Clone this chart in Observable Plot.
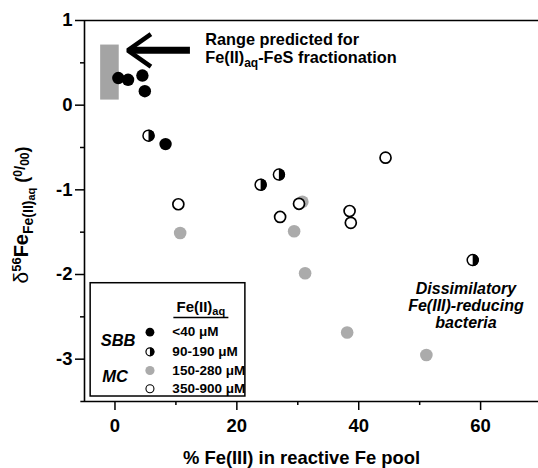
<!DOCTYPE html>
<html><head><meta charset="utf-8">
<script src="https://cdn.jsdelivr.net/npm/d3@7"></script>
<script src="https://cdn.jsdelivr.net/npm/@observablehq/plot@0.6"></script>
<style>
html,body{margin:0;padding:0;background:#fff;}
#chart{width:538px;height:468px;}
</style></head><body><div id="chart"></div>
<script>
// ---- data ----
const lowFeX  = [0.55, 2.15, 4.5, 4.9, 8.3];          // SBB <40 µM (filled black)
const lowFeY  = [0.32, 0.30, 0.35, 0.165, -0.46];
const midFeX  = [5.5, 23.9, 26.9, 58.7];              // 90-190 µM (half filled)
const midFeY  = [-0.36, -0.94, -0.82, -1.83];
const grayFeX = [10.7, 29.4, 30.75, 31.2, 38.1, 51.1]; // MC 150-280 µM (gray)
const grayFeY = [-1.51, -1.49, -1.14, -1.985, -2.685, -2.95];
const highFeX = [10.4, 27.1, 30.2, 38.5, 38.7, 44.4];  // 350-900 µM (open)
const highFeY = [-1.17, -1.32, -1.165, -1.25, -1.39, -0.62];

const xTicks = [0, 20, 40, 60];
const xMinor = [10, 30, 50];
const yTicks = [-3, -2, -1, 0, 1];
const yMinor = [-2.5, -1.5, -0.5, 0.5];
const xDomain = [-5, 69.5];
const yDomain = [-3.5, 1];

const xTitle = "% Fe(III) in reactive Fe pool";
const legendLabels = ["<40 μM", "90-190 μM", "150-280 μM", "350-900 μM"];
const legendGroups = ["SBB", "MC"];
const bacteriaLabel = "Dissimilatory\nFe(III)-reducing\nbacteria";

// annotation anchors (data coordinates)
const rangeBox = {x1: -2.35, x2: 0.7, y1: 0.06, y2: 0.71};
const arrowShaftX = [12.3, 2.6], arrowY = 0.648;
const arrowHeadX = [5.9, 2.1, 5.9], arrowHeadY = [0.84, 0.648, 0.456];
const rangeTextX = 14.9, rangeTextY = [0.705, 0.496];
const legendBox = {x1: -3.99, x2: 21.4, y1: -2.103, y2: -3.441};
const legendSymX = 5.74, legendTextX = 9.42;
const legendRowY = [-2.681, -2.913, -3.134, -3.350];
const legendGroupX = [-2.35, -2.07], legendGroupY = [-2.788, -3.213];
const bacteriaX = 57.6, bacteriaY = -2.09;

const ff = "'Liberation Sans', Arial, Helvetica, sans-serif";
const fmt = d => String(d);
const pts = (xs, ys) => xs.map((x, i) => ({x, y: ys[i]}));
const halfRight = {draw(ctx, size) {
  const r = Math.sqrt(size / Math.PI);
  ctx.moveTo(0, -r); ctx.arc(0, 0, r, -Math.PI / 2, Math.PI / 2); ctx.closePath();
}};

const plot = Plot.plot({
  width: 538, height: 468,
  marginLeft: 84, marginRight: 0, marginTop: 20, marginBottom: 67,
  style: {fontFamily: ff, color: "black", background: "white", overflow: "visible"},
  x: {domain: xDomain, label: null},
  y: {domain: yDomain, label: null},
  marks: [
    // range predicted
    Plot.rect([rangeBox], {x1: "x1", x2: "x2", y1: "y1", y2: "y2", fill: "#a4a4a4"}),
    // arrow
    Plot.link([0], {x1: arrowShaftX[0], x2: arrowShaftX[1], y1: arrowY, y2: arrowY, stroke: "black", strokeWidth: 7}),
    Plot.line(pts(arrowHeadX, arrowHeadY), {x: "x", y: "y", stroke: "black", strokeWidth: 4.5, strokeLinejoin: "miter", strokeLinecap: "butt"}),
    // frame lines
    Plot.ruleY([yDomain[1]], {stroke: "black", strokeWidth: 1.5}),
    Plot.ruleY([yDomain[0]], {x1: -5.6, x2: xDomain[1], stroke: "black", strokeWidth: 1.6}),
    Plot.ruleX([xDomain[0]], {stroke: "black", strokeWidth: 1.6}),
    // axes
    Plot.axisX({ticks: xTicks, tickFormat: fmt, tickSize: 9, tickPadding: 8, fontSize: 18.5, fontWeight: "bold", strokeWidth: 1.5, label: null}),
    Plot.axisX({ticks: xMinor, tickSize: 4, tickFormat: () => "", strokeWidth: 1.5, label: null}),
    Plot.axisY({ticks: yTicks, tickFormat: fmt, tickSize: 9, tickPadding: 3, fontSize: 18.5, fontWeight: "bold", strokeWidth: 1.5, label: null}),
    Plot.axisY({ticks: yMinor, tickSize: 4, tickFormat: () => "", strokeWidth: 1.5, label: null}),
    // data
    Plot.dot(pts(lowFeX, lowFeY), {x: "x", y: "y", r: 6.2, fill: "black"}),
    Plot.dot(pts(midFeX, midFeY), {x: "x", y: "y", r: 5.5, fill: "white", stroke: "black", strokeWidth: 1.5}),
    Plot.dot(pts(midFeX, midFeY), {x: "x", y: "y", r: 6.2, fill: "black", symbol: halfRight}),
    Plot.dot(pts(grayFeX, grayFeY), {x: "x", y: "y", r: 6.3, fill: "#ababab"}),
    Plot.dot(pts(highFeX, highFeY), {x: "x", y: "y", r: 5.5, fill: "white", stroke: "black", strokeWidth: 1.7}),
    // legend
    Plot.rect([legendBox], {x1: "x1", x2: "x2", y1: "y1", y2: "y2", fill: "white", stroke: "black", strokeWidth: 1.5}),
    Plot.dot([legendRowY[0]], {x: legendSymX, y: d => d, r: 4.4, fill: "black"}),
    Plot.dot([legendRowY[1]], {x: legendSymX, y: d => d, r: 4, fill: "white", stroke: "black", strokeWidth: 1.2}),
    Plot.dot([legendRowY[1]], {x: legendSymX, y: d => d, r: 4.4, fill: "black", symbol: halfRight}),
    Plot.dot([legendRowY[2]], {x: legendSymX, y: d => d, r: 4.6, fill: "#ababab"}),
    Plot.dot([legendRowY[3]], {x: legendSymX, y: d => d, r: 4, fill: "white", stroke: "black", strokeWidth: 1.1}),
    Plot.text(legendLabels, {x: legendTextX, y: (d, i) => legendRowY[i], text: d => d, textAnchor: "start", fontSize: 13.5, fontWeight: "bold", fill: "black"}),
    Plot.text(legendGroups, {x: (d, i) => legendGroupX[i], y: (d, i) => legendGroupY[i], text: d => d, textAnchor: "start", fontSize: 16.5, fontWeight: "bold", fontStyle: "italic", fill: "black"}),
    // bacteria label
    Plot.text([bacteriaLabel], {x: bacteriaX, y: bacteriaY, text: d => d, lineAnchor: "top", lineHeight: 1.05, fontSize: 16, fontWeight: "bold", fontStyle: "italic", fill: "black"})
  ]
});

document.getElementById("chart").appendChild(plot);

// rich text (sub/superscripts) placed through the plot's scales
const sx = plot.scale("x"), sy = plot.scale("y");
const svg = d3.select(plot);

// y-axis title
const yt = svg.append("text").attr("transform", "translate(28,215) rotate(-90)")
  .attr("text-anchor", "middle").attr("font-family", ff).attr("fill", "black").attr("font-weight", "bold");
yt.append("tspan").attr("font-size", 21).attr("font-weight", "normal").text("δ");
yt.append("tspan").attr("font-size", 13).attr("dy", -7).text("56");
yt.append("tspan").attr("font-size", 20).attr("dy", 7).text("Fe");
yt.append("tspan").attr("font-size", 14).attr("dy", 5).text("Fe(II)");
yt.append("tspan").attr("font-size", 11).attr("dy", 2).text("aq");
yt.append("tspan").attr("font-size", 18).attr("dy", -7).text(" (");
yt.append("tspan").attr("font-size", 12).attr("dy", -6).text("0");
yt.append("tspan").attr("font-size", 15).attr("dy", 3).text("/");
yt.append("tspan").attr("font-size", 12).attr("dy", 4).text("00");
yt.append("tspan").attr("font-size", 18).attr("dy", -1).text(")");

// x-axis title
svg.append("text").attr("x", 301.5).attr("y", 464).attr("text-anchor", "middle")
  .attr("font-family", ff).attr("font-weight", "bold").attr("font-size", 18.4).attr("fill", "black").text(xTitle);

// range annotation
svg.append("text").attr("x", sx.apply(rangeTextX)).attr("y", sy.apply(rangeTextY[0])).attr("text-anchor", "start")
  .attr("font-family", ff).attr("font-weight", "bold").attr("font-size", 16.3).attr("fill", "black").text("Range predicted for");
const r2 = svg.append("text").attr("x", sx.apply(rangeTextX)).attr("y", sy.apply(rangeTextY[1])).attr("text-anchor", "start")
  .attr("font-family", ff).attr("font-weight", "bold").attr("font-size", 16.3).attr("fill", "black");
r2.append("tspan").text("Fe(II)");
r2.append("tspan").attr("font-size", 12).attr("dy", 4).text("aq");
r2.append("tspan").attr("dy", -4).text("-FeS fractionation");

// legend header
const hx = (sx.apply(legendTextX) + 29);
const hd = svg.append("text").attr("x", hx).attr("y", 311.7).attr("text-anchor", "middle")
  .attr("font-family", ff).attr("font-weight", "bold").attr("font-size", 15).attr("fill", "black");
hd.append("tspan").text("Fe(II)");
hd.append("tspan").attr("font-size", 11).attr("dy", 3).text("aq");
svg.append("line").attr("x1", hx - 27.5).attr("x2", hx + 27.5).attr("y1", 317.5).attr("y2", 317.5)
  .attr("stroke", "black").attr("stroke-width", 1.3);
</script></body></html>
